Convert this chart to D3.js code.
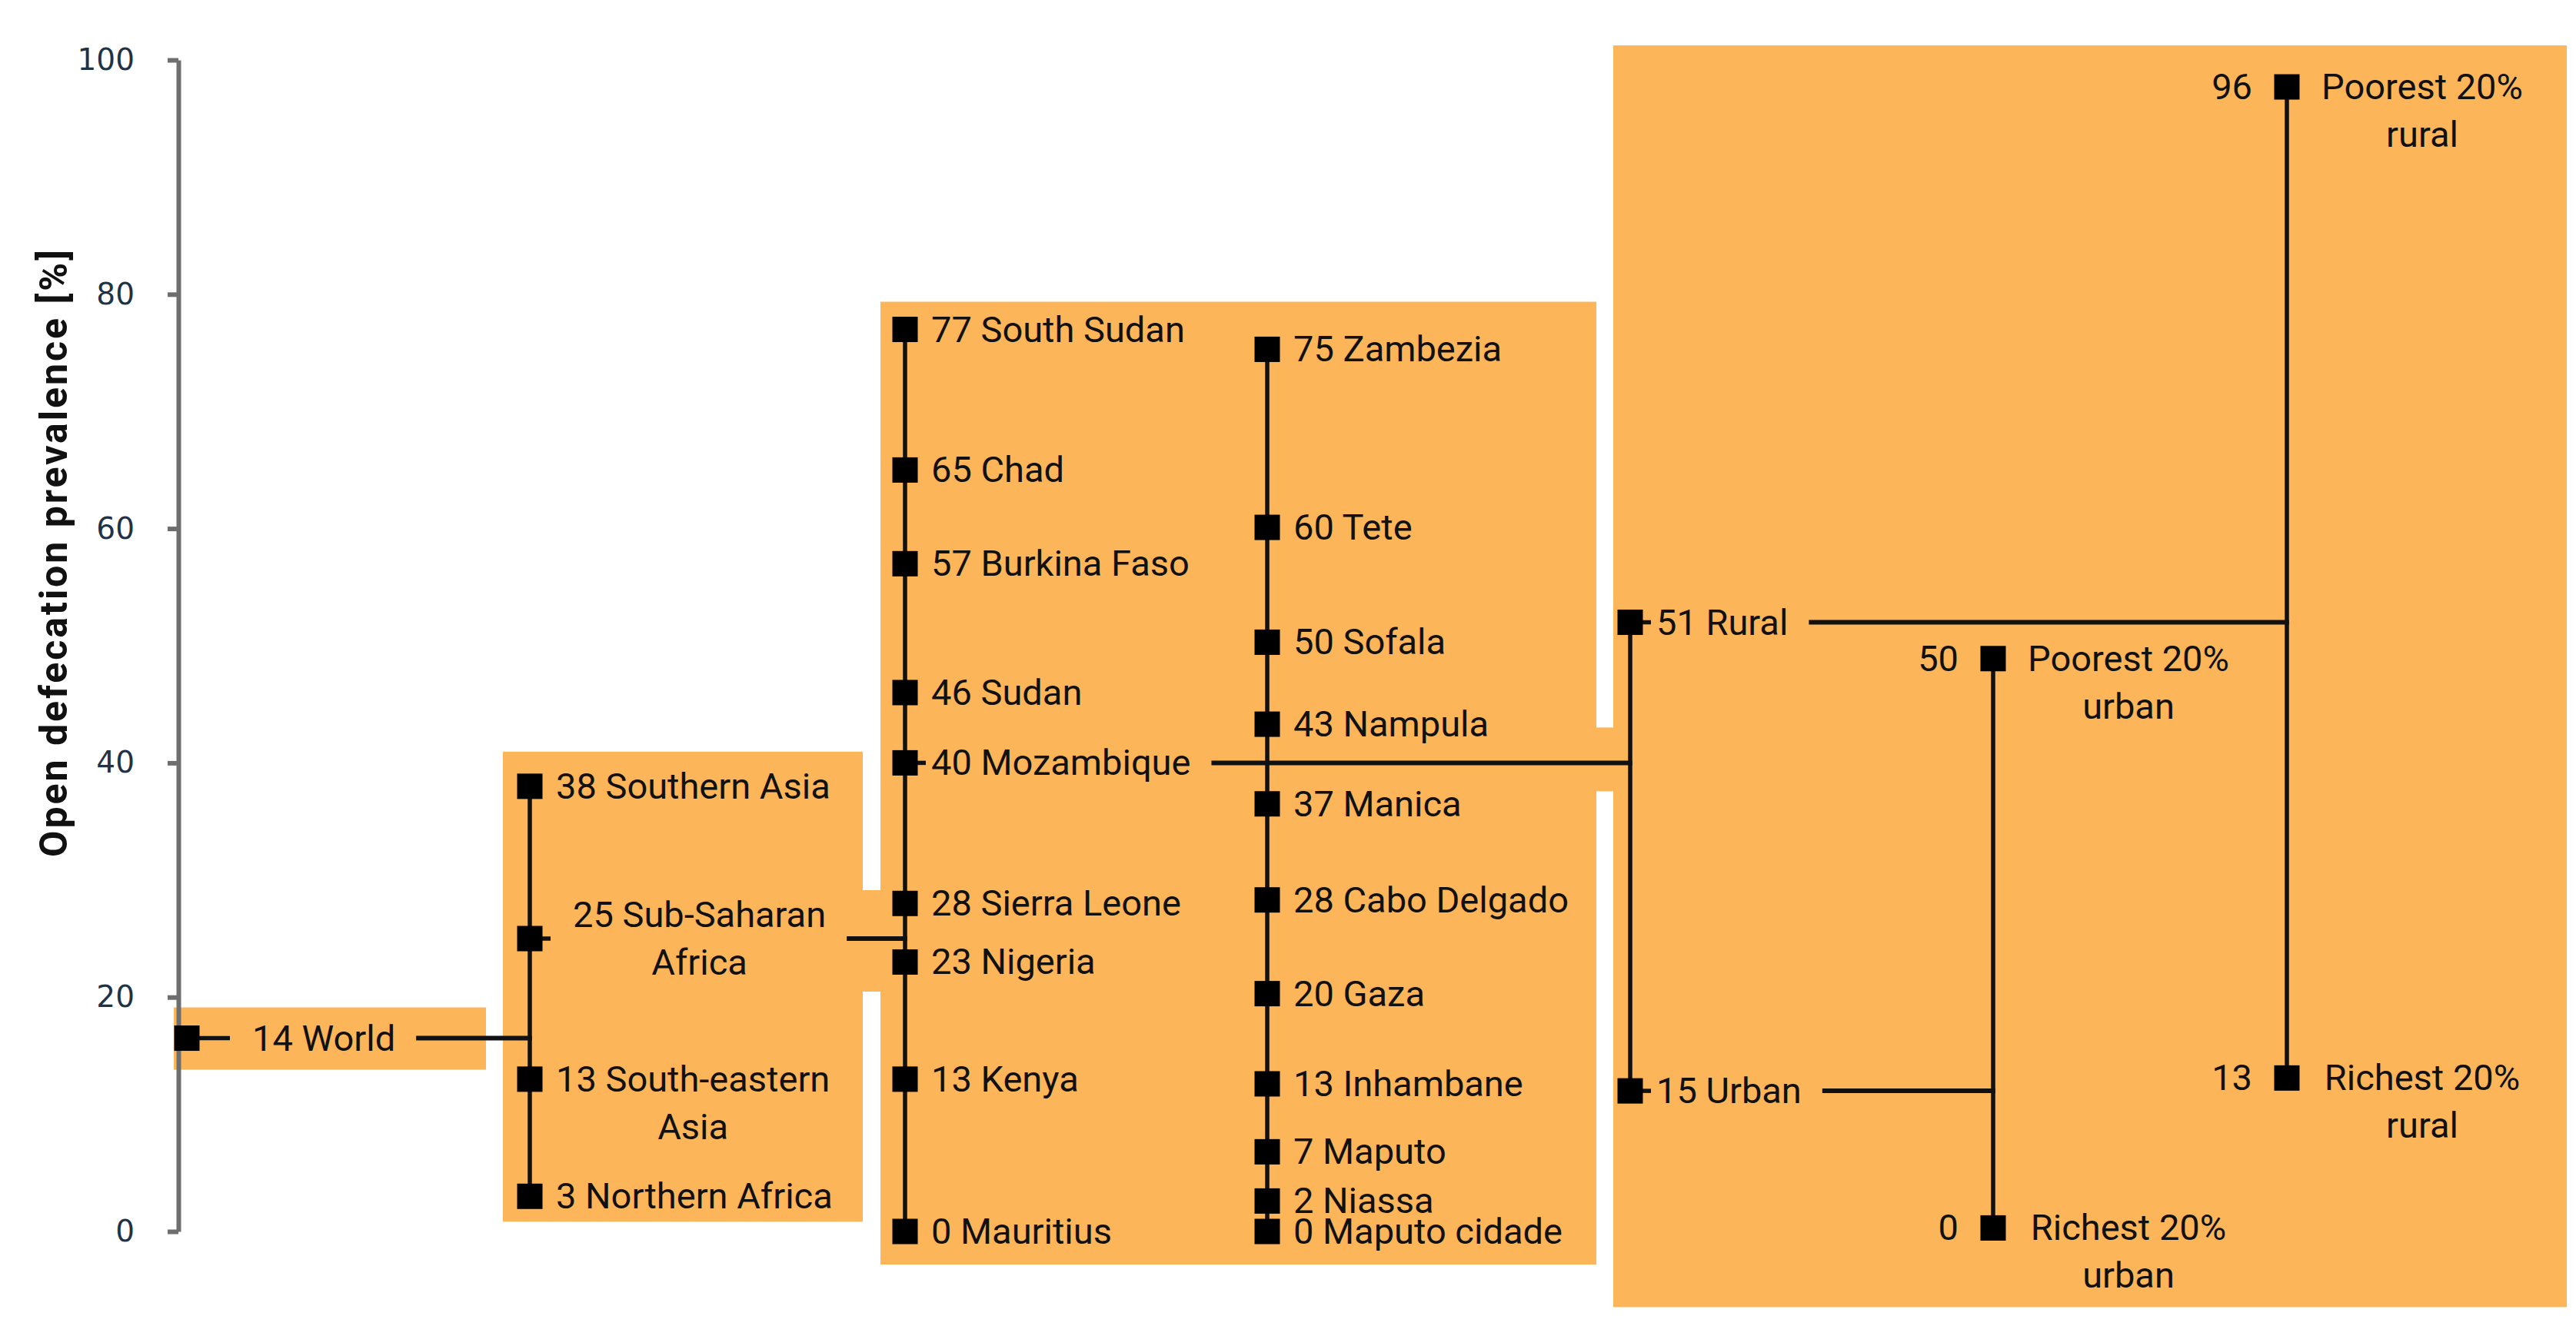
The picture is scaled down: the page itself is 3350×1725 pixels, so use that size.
<!DOCTYPE html>
<html><head><meta charset="utf-8">
<script src="https://cdn.jsdelivr.net/npm/d3@7"></script>
<style>html,body{margin:0;padding:0;background:#fff;} svg{display:block;}</style>
</head><body>
<svg id="chart" width="3350" height="1725"></svg>
<script>
// ---------------- data ----------------
const yTicks = [0, 20, 40, 60, 80, 100];
const yTitle = "Open defecation prevalence [%]";

const worldNames = ["World"];
const worldValues = [14];
const worldMarks = [16.5];            // height at which the marker is drawn in the picture

const regionNames = ["Southern Asia", "Sub-Saharan\nAfrica", "South-eastern\nAsia", "Northern Africa"];
const regionValues = [38, 25, 13, 3];

const countryNames = ["South Sudan", "Chad", "Burkina Faso", "Sudan", "Mozambique", "Sierra Leone", "Nigeria", "Kenya", "Mauritius"];
const countryValues = [77, 65, 57, 46, 40, 28, 23, 13, 0];

const provinceNames = ["Zambezia", "Tete", "Sofala", "Nampula", "Manica", "Cabo Delgado", "Gaza", "Inhambane", "Maputo", "Niassa", "Maputo cidade"];
const provinceValues = [75, 60, 50, 43, 37, 28, 20, 13, 7, 2, 0];
const provinceMarks = [75.3, 60.1, 50.3, 43.3, 36.5, 28.3, 20.3, 12.6, 6.8, 2.6, 0];

const residenceNames = ["Rural", "Urban"];
const residenceValues = [51, 15];
const residenceMarks = [52, 12];

const urbanQuintileNames = ["Poorest 20%\nurban", "Richest 20%\nurban"];
const urbanQuintileValues = [50, 0];
const urbanQuintileMarks = [48.9, 0.3];

const ruralQuintileNames = ["Poorest 20%\nrural", "Richest 20%\nrural"];
const ruralQuintileValues = [96, 13];
const ruralQuintileMarks = [97.7, 13.1];

// parent node -> column it branches into
const linkSources = ["World", "Sub-Saharan Africa", "Mozambique", "Rural", "Urban"];
const linkTargets = ["regions", "countries", "residence", "ruralQ", "urbanQ"];

// ---------------- layout ----------------
const svg = d3.select("#chart");
const FONT = "Roboto, 'Open Sans', sans-serif";
const ORANGE = "#FDB55A";
const INK = "#111111";

const columns = ["world", "regions", "countries", "provinces", "residence", "urbanQ", "ruralQ"];
const x = d3.scaleOrdinal().domain(columns).range([243, 689, 1177, 1648, 2120, 2592, 2974]);
const y = d3.scaleLinear().domain([0, 100]).range([1602, 78]);

function makeGroup(col, names, values, marks, style) {
  return names.map((n, i) => ({
    col, style,
    lines: n.split("\n"),
    key: n.replace("\n", " "),
    value: values[i],
    mark: marks ? marks[i] : values[i]
  }));
}
const groups = [
  makeGroup("world", worldNames, worldValues, worldMarks, "right"),
  makeGroup("regions", regionNames, regionValues, null, "right"),
  makeGroup("countries", countryNames, countryValues, null, "right"),
  makeGroup("provinces", provinceNames, provinceValues, provinceMarks, "right"),
  makeGroup("residence", residenceNames, residenceValues, residenceMarks, "right"),
  makeGroup("urbanQ", urbanQuintileNames, urbanQuintileValues, urbanQuintileMarks, "split"),
  makeGroup("ruralQ", ruralQuintileNames, ruralQuintileValues, ruralQuintileMarks, "split")
];
const nodes = groups.flat();
const byKey = new Map(nodes.map(d => [d.key, d]));

// ---------------- background panels ----------------
const gBg = svg.append("g");
const panels = [
  [226, 632, y(worldMarks[0]) - 40, y(worldMarks[0]) + 41],
  [654, 1122, y(d3.max(regionValues)) - 45, y(d3.min(regionValues)) + 33],
  [1145, 2076, y(d3.max(countryValues)) - 36, y(d3.min(countryValues)) + 43],
  [2098, 3338, y(d3.max(ruralQuintileMarks)) - 54, y(d3.min(urbanQuintileMarks)) + 103],
  [1120, 1147, y(25) - 63, y(25) + 69],
  [2074, 2100, y(40) - 46, y(40) + 37]
];
gBg.selectAll("rect").data(panels).join("rect")
  .attr("x", d => d[0]).attr("y", d => d[2])
  .attr("width", d => d[1] - d[0]).attr("height", d => d[3] - d[2])
  .attr("fill", ORANGE);

// ---------------- axis ----------------
const gAxis = svg.append("g").attr("transform", "translate(232,0)")
  .call(d3.axisLeft(y).tickValues(yTicks).tickSize(14).tickSizeOuter(0).tickPadding(43));
gAxis.select(".domain").attr("stroke", "#6e6e6e").attr("stroke-width", 6);
gAxis.selectAll(".tick line").attr("stroke", "#6e6e6e").attr("stroke-width", 6);
gAxis.selectAll(".tick text")
  .attr("font-family", "'DejaVu Sans', sans-serif").attr("font-size", 39)
  .attr("fill", "#1f3347");

svg.append("text")
  .attr("transform", "translate(87,720) rotate(-90)")
  .attr("text-anchor", "middle")
  .attr("font-family", FONT).attr("font-size", 50).attr("font-weight", 700)
  .attr("fill", INK)
  .attr("textLength", 790).attr("lengthAdjust", "spacing")
  .text(yTitle);

// ---------------- vertical group lines ----------------
const gLines = svg.append("g").attr("stroke", INK).attr("stroke-width", 5.5).attr("fill", "none");
groups.forEach(g => {
  if (g.length < 2) return;
  const ext = d3.extent(g, d => d.mark);
  gLines.append("line")
    .attr("x1", x(g[0].col)).attr("x2", x(g[0].col))
    .attr("y1", y(ext[1])).attr("y2", y(ext[0]));
});

// ---------------- labels ----------------
const gText = svg.append("g").attr("font-family", FONT).attr("font-size", 47).attr("fill", INK);
const LINE = 62, BASE = 16;
const labelEnd = new Map();

nodes.forEach(d => {
  const cx = x(d.col), cy = y(d.mark);
  const linked = linkSources.includes(d.key);
  if (d.style === "right") {
    const off = d.col === "world" ? 85 : (linked && d.lines.length > 1 ? 56 : 34);
    const first = gText.append("text")
      .attr("x", cx + off)
      .text(d.value + " " + d.lines[0]);
    const w1 = first.node().getComputedTextLength();
    const top = linked && d.lines.length > 1 ? cy + BASE - (d.lines.length - 1) * LINE / 2 : cy + BASE;
    first.attr("y", top);
    d.lines.slice(1).forEach((l, i) => {
      gText.append("text").attr("text-anchor", "middle")
        .attr("x", cx + off + w1 / 2).attr("y", top + (i + 1) * LINE).text(l);
    });
    labelEnd.set(d.key, cx + off + w1);
  } else {
    gText.append("text").attr("text-anchor", "end")
      .attr("x", cx - 45).attr("y", cy + BASE).text(d.value);
    d.lines.forEach((l, i) => {
      gText.append("text").attr("text-anchor", "middle")
        .attr("x", cx + 176).attr("y", cy + BASE + i * LINE).text(l);
    });
  }
});

// ---------------- connectors + stubs ----------------
linkSources.forEach((k, i) => {
  const d = byKey.get(k);
  const cx = x(d.col), cy = y(d.mark);
  gLines.append("line")
    .attr("x1", cx).attr("x2", cx + (d.col === "world" ? 56 : 27))
    .attr("y1", cy).attr("y2", cy);
  gLines.append("line")
    .attr("x1", labelEnd.get(k) + 27).attr("x2", x(linkTargets[i]) + 2.75)
    .attr("y1", cy).attr("y2", cy).attr("stroke-width", 6);
});

// ---------------- markers ----------------
const S = 33;
svg.append("g").selectAll("rect").data(nodes).join("rect")
  .attr("x", d => x(d.col) - S / 2).attr("y", d => y(d.mark) - S / 2)
  .attr("width", S).attr("height", S).attr("fill", "#000");
</script>
</body></html>
